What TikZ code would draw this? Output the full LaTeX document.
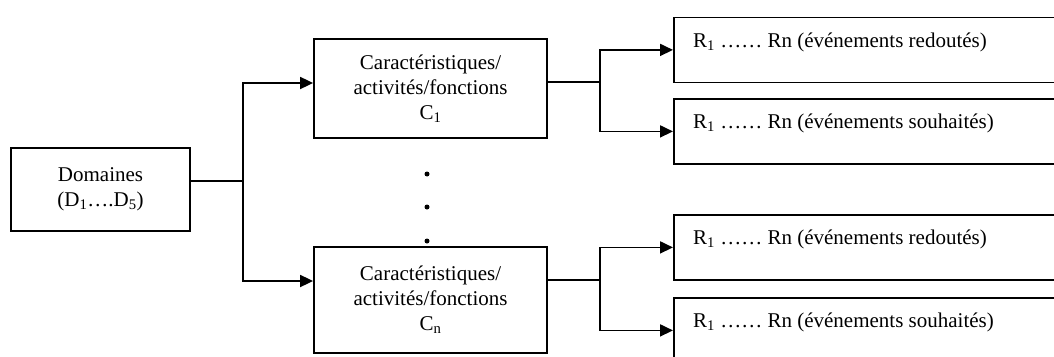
\documentclass[tikz,border=0pt]{standalone}
\usepackage{fontspec}
\setmainfont{Liberation Serif}
\usetikzlibrary{arrows.meta}
\begin{document}
\begin{tikzpicture}[x=1pt,y=-1pt,
  txt/.style={font=\fontsize{21}{25}\selectfont},
  box/.style={draw,line width=1.8pt,inner sep=0pt,align=center,txt},
  rbox/.style={draw,line width=1.8pt,inner sep=0pt,anchor=north west,minimum width=420pt,minimum height=65pt},
  rlabel/.style={anchor=base west,inner sep=0pt,txt},
  link/.style={line width=1.8pt},
  arr/.style={link,-{Triangle[length=13pt,width=12pt]}},
  dotmark/.style={circle,fill,inner sep=0pt,minimum size=5pt}]
\clip (0,0) rectangle (1054,356);
% left box
\node[box,minimum width=179pt,minimum height=83pt] (dom) at (100.5,189.5) {Domaines\\(D\textsubscript{1}….D\textsubscript{5})};
% middle boxes
\node[box,minimum width=233pt,minimum height=99pt] (c1) at (430.5,88.5) {Caractéristiques/\\activités/fonctions\\C\textsubscript{1}};
\node[box,minimum width=233pt,minimum height=106pt] (cn) at (430.5,300) {Caractéristiques/\\activités/fonctions\\C\textsubscript{n}};
% dots
\node[dotmark] (d1) at (427,174) {};
\node[dotmark] (d2) at (427,207) {};
\node[dotmark] (d3) at (427,241) {};
% right boxes
\node[rbox] (r1) at (673,16.5) {};
\node[rbox] (r2) at (673,98) {};
\node[rbox] (r3) at (673,214) {};
\node[rbox] (r4) at (673,297) {};
\node[rlabel] (l1) at (693,47) {R\textsubscript{1} …… Rn (événements redoutés)};
\node[rlabel] (l2) at (693,128.5) {R\textsubscript{1} …… Rn (événements souhaités)};
\node[rlabel] (l3) at (693,244) {R\textsubscript{1} …… Rn (événements redoutés)};
\node[rlabel] (l4) at (693,327) {R\textsubscript{1} …… Rn (événements souhaités)};
% connectors
\coordinate (jd) at (243,181);
\coordinate (a1) at (300,83);
\coordinate (a2) at (300,281);
\draw[link] (dom.east |- jd) -- (jd);
\draw[arr] (jd) |- (c1.west |- a1);
\draw[arr] (jd) |- (cn.west |- a2);
\coordinate (j1) at (600,82);
\coordinate (j2) at (600,280);
\draw[link] (c1.east |- j1) -- (j1);
\draw[arr] (j1) |- (r1.west);
\draw[arr] (j1) |- (r2.west);
\draw[link] (cn.east |- j2) -- (j2);
\draw[arr] (j2) |- (r3.west);
\draw[arr] (j2) |- (r4.west);
\end{tikzpicture}
\end{document}
